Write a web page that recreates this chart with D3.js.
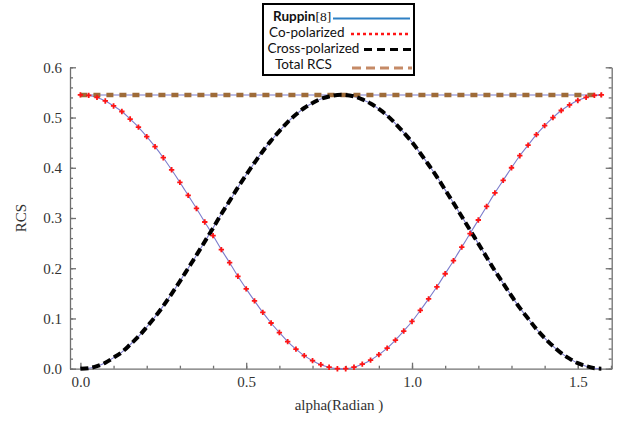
<!DOCTYPE html>
<html>
<head>
<meta charset="utf-8">
<script src="https://cdn.jsdelivr.net/npm/d3@7"></script>
<style>
  body { margin: 0; background: #fff; }
  .serif { font-family: "Liberation Serif", "Times New Roman", Times, "DejaVu Serif", serif; }
  .axis text { font-family: "Liberation Serif", "Times New Roman", Times, "DejaVu Serif", serif; font-size: 15px; fill: #333; }
  .axis path, .axis line { stroke: #707070; stroke-width: 1.3; }
  .leg { font-family: Lato, "Open Sans", sans-serif; font-size: 13.5px; fill: #111; }
</style>
</head>
<body>
<div id="myChart"></div>
<script>
// alpha values (radian) sampled along the curves
const alpha = [0, 0.025, 0.05, 0.075, 0.1, 0.125, 0.15, 0.175, 0.2, 0.225, 0.25, 0.275, 0.3, 0.325, 0.35, 0.375,
  0.4, 0.425, 0.45, 0.475, 0.5, 0.525, 0.55, 0.575, 0.6, 0.625, 0.65, 0.675, 0.7, 0.725, 0.75, 0.775,
  0.8, 0.825, 0.85, 0.875, 0.9, 0.925, 0.95, 0.975, 1.0, 1.025, 1.05, 1.075, 1.1, 1.125, 1.15, 1.175,
  1.2, 1.225, 1.25, 1.275, 1.3, 1.325, 1.35, 1.375, 1.4, 1.425, 1.45, 1.475, 1.5, 1.525, 1.55, 1.571];

const coPol = [0.545, 0.544, 0.540, 0.533, 0.523, 0.512, 0.497, 0.481, 0.462, 0.442, 0.420, 0.396, 0.371, 0.345, 0.319, 0.292,
  0.265, 0.237, 0.211, 0.184, 0.159, 0.135, 0.112, 0.091, 0.072, 0.054, 0.039, 0.026, 0.016, 0.008, 0.003, 0.000,
  0.000, 0.003, 0.009, 0.017, 0.028, 0.041, 0.057, 0.075, 0.094, 0.116, 0.139, 0.163, 0.189, 0.215, 0.242, 0.269,
  0.296, 0.323, 0.350, 0.375, 0.400, 0.424, 0.445, 0.466, 0.484, 0.500, 0.514, 0.525, 0.534, 0.540, 0.544, 0.545];

const crossPol = [0.000, 0.001, 0.005, 0.012, 0.022, 0.033, 0.048, 0.064, 0.083, 0.103, 0.125, 0.149, 0.174, 0.200, 0.226, 0.253,
  0.280, 0.308, 0.334, 0.361, 0.386, 0.410, 0.433, 0.454, 0.473, 0.491, 0.506, 0.519, 0.529, 0.537, 0.542, 0.545,
  0.545, 0.542, 0.536, 0.528, 0.517, 0.504, 0.488, 0.470, 0.451, 0.429, 0.406, 0.382, 0.356, 0.330, 0.303, 0.276,
  0.249, 0.222, 0.195, 0.170, 0.145, 0.121, 0.100, 0.079, 0.061, 0.045, 0.031, 0.020, 0.011, 0.005, 0.001, 0.000];

const totalAlpha = [0, 1.571];
const totalRcs = [0.545, 0.545];

const xMajor = [0, 0.5, 1.0, 1.5];
const xMinor = [0, 0.1, 0.2, 0.3, 0.4, 0.5, 0.6, 0.7, 0.8, 0.9, 1.0, 1.1, 1.2, 1.3, 1.4, 1.5, 1.6];
const yMajor = [0, 0.1, 0.2, 0.3, 0.4, 0.5, 0.6];
const yMinor = [0, 0.02, 0.04, 0.06, 0.08, 0.1, 0.12, 0.14, 0.16, 0.18, 0.2, 0.22, 0.24, 0.26, 0.28, 0.3,
  0.32, 0.34, 0.36, 0.38, 0.4, 0.42, 0.44, 0.46, 0.48, 0.5, 0.52, 0.54, 0.56, 0.58, 0.6];

const legendItems = ["Ruppin", "Co-polarized", "Cross-polarized", "Total RCS"];

const width = 620, height = 423;

const svg = d3.select("#myChart")
  .append("svg")
    .attr("width", width)
    .attr("height", height);

const x = d3.scaleLinear().domain([-0.0314, 1.6022]).range([70, 611.7]);
const y = d3.scaleLinear().domain([0, 0.6]).range([368.7, 67.3]);

// axes: ticks point inward
svg.append("g").attr("class", "axis").attr("transform", `translate(0,${y(0)})`)
  .call(d3.axisBottom(x).tickValues(xMinor).tickSize(-3).tickSizeOuter(0).tickFormat(""));
svg.append("g").attr("class", "axis").attr("transform", `translate(0,${y(0)})`)
  .call(d3.axisBottom(x).tickValues(xMajor).tickSize(-6).tickSizeOuter(0).tickPadding(8).tickFormat(d3.format(".1f")))
  .call(g => g.attr("font-family", null).select(".domain").remove());

svg.append("g").attr("class", "axis").attr("transform", `translate(${x.range()[0]},0)`)
  .call(d3.axisLeft(y).tickValues(yMinor).tickSize(-3).tickSizeOuter(0).tickFormat(""));
svg.append("g").attr("class", "axis").attr("transform", `translate(${x.range()[0]},0)`)
  .call(d3.axisLeft(y).tickValues(yMajor).tickSize(-6).tickSizeOuter(0).tickPadding(8).tickFormat(d3.format(".1f")))
  .call(g => g.attr("font-family", null).select(".domain").remove());

svg.append("g").attr("class", "axis").attr("transform", `translate(${x.range()[1]},0)`)
  .call(d3.axisRight(y).tickValues(yMinor).tickSize(-3).tickSizeOuter(0).tickFormat(""));
svg.append("g").attr("class", "axis").attr("transform", `translate(${x.range()[1]},0)`)
  .call(d3.axisRight(y).tickValues(yMajor).tickSize(-6).tickSizeOuter(0).tickFormat(""))
  .call(g => g.select(".domain").remove());

const line = d3.line()
  .x(d => x(d[0]))
  .y(d => y(d[1]))
  .curve(d3.curveCatmullRom);

const coData = alpha.map((a, i) => [a, coPol[i]]);
const crossData = alpha.map((a, i) => [a, crossPol[i]]);
const totalData = totalAlpha.map((a, i) => [a, totalRcs[i]]);

// Ruppin reference: thin lines under everything
[coData, crossData, totalData].forEach(data => {
  svg.append("path")
    .datum(data)
    .attr("d", line)
    .attr("fill", "none")
    .attr("stroke", "#7b7bcc")
    .attr("stroke-width", 1.1);
});

// total RCS
svg.append("path")
  .datum(totalData)
  .attr("d", line)
  .attr("fill", "none")
  .attr("stroke", "#9e6b38")
  .attr("stroke-width", 4.5)
  .attr("stroke-dasharray", "7,6");

// cross-polarized
svg.append("path")
  .datum(crossData)
  .attr("d", line)
  .attr("fill", "none")
  .attr("stroke", "#000")
  .attr("stroke-width", 4)
  .attr("stroke-dasharray", "8,4");

// co-polarized markers
svg.append("g")
  .selectAll("path")
  .data(coData)
  .join("path")
    .attr("transform", d => `translate(${x(d[0])},${y(d[1])})`)
    .attr("d", d3.symbol(d3.symbolCross, 16))
    .attr("fill", "#ff1414");

// axis titles
svg.append("text")
  .attr("class", "serif")
  .attr("transform", `translate(26,${(y(0) + y(0.6)) / 2}) rotate(-90)`)
  .attr("text-anchor", "middle")
  .attr("font-size", "15px")
  .attr("fill", "#333")
  .text("RCS");

svg.append("text")
  .attr("class", "serif")
  .attr("x", 339)
  .attr("y", 410)
  .attr("text-anchor", "middle")
  .attr("font-size", "15px")
  .attr("fill", "#333")
  .text("alpha(Radian )");

// legend
const legend = svg.append("g");
legend.append("rect")
  .attr("x", 263).attr("y", 4)
  .attr("width", 151).attr("height", 71)
  .attr("fill", "#fff")
  .attr("stroke", "#000")
  .attr("stroke-width", 2);

const lg = legend.append("text")
  .attr("class", "leg")
  .attr("x", 273).attr("y", 21);
lg.append("tspan").attr("font-weight", "bold").text(legendItems[0]);
lg.append("tspan").attr("class", "serif").text("[8]");
legend.append("line")
  .attr("x1", 333).attr("x2", 410).attr("y1", 18.5).attr("y2", 18.5)
  .attr("stroke", "#2f80c4").attr("stroke-width", 2.2);

legend.append("text")
  .attr("class", "leg")
  .attr("x", 269).attr("y", 37)
  .text(legendItems[1]);
legend.append("line")
  .attr("x1", 351).attr("x2", 410).attr("y1", 34).attr("y2", 34)
  .attr("stroke", "#ff1414").attr("stroke-width", 2.5).attr("stroke-dasharray", "3,3");

legend.append("text")
  .attr("class", "leg")
  .attr("x", 267.5).attr("y", 53)
  .text(legendItems[2]);
legend.append("line")
  .attr("x1", 364).attr("x2", 412).attr("y1", 49.5).attr("y2", 49.5)
  .attr("stroke", "#000").attr("stroke-width", 3).attr("stroke-dasharray", "8,5");

legend.append("text")
  .attr("class", "leg")
  .attr("x", 275).attr("y", 69)
  .text(legendItems[3]);
legend.append("line")
  .attr("x1", 352).attr("x2", 412).attr("y1", 68).attr("y2", 68)
  .attr("stroke", "#c58a66").attr("stroke-width", 3).attr("stroke-dasharray", "9,5");
</script>
</body>
</html>
